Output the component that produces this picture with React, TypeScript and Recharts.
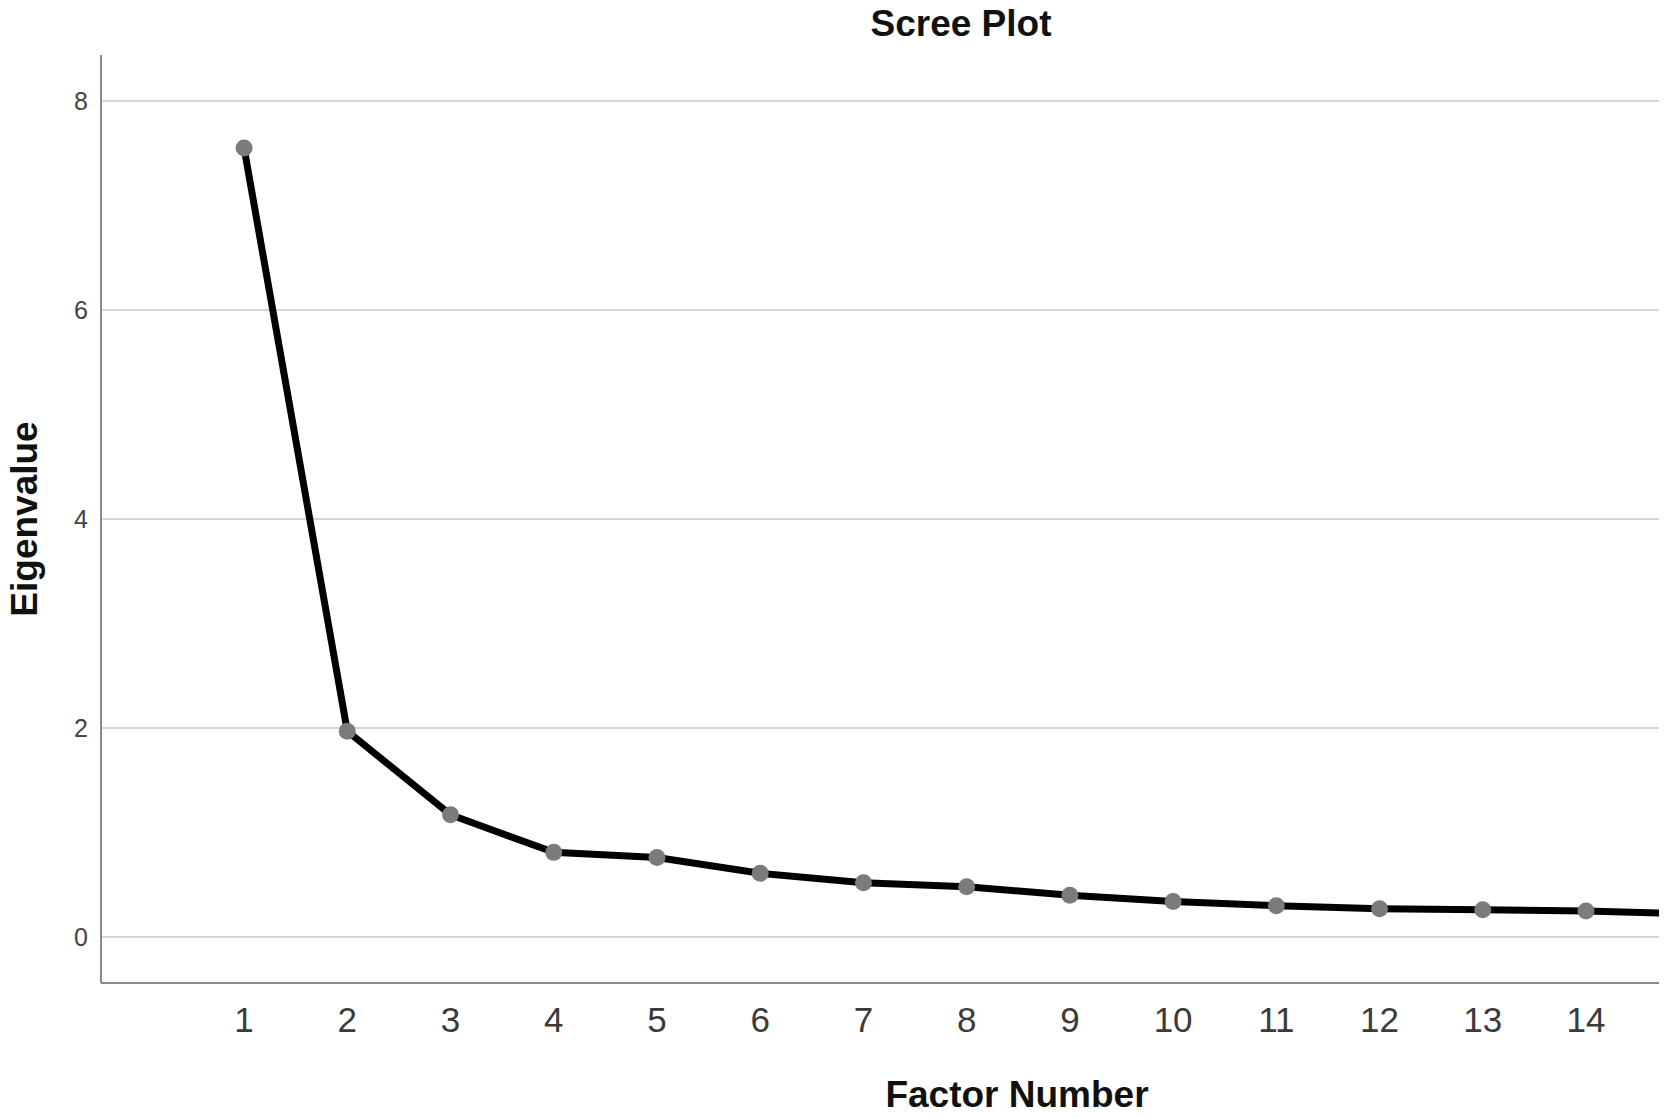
import React from 'react';
import { LineChart, Line, XAxis, YAxis, ReferenceLine, Label } from 'recharts';

const factorNumbers = [1, 2, 3, 4, 5, 6, 7, 8, 9, 10, 11, 12, 13, 14, 15];
const eigenvalues = [7.55, 1.97, 1.17, 0.81, 0.76, 0.61, 0.52, 0.48, 0.40, 0.34, 0.30, 0.27, 0.26, 0.25, 0.22];
const xTicks = [1, 2, 3, 4, 5, 6, 7, 8, 9, 10, 11, 12, 13, 14];
const yTicks = [0, 2, 4, 6, 8];

const data = factorNumbers.map((f, i) => ({ factor: f, eigen: eigenvalues[i] }));

const FONT = '"Liberation Sans", Arial, sans-serif';

export default function App() {
  return (
    <div style={{ position: 'absolute', left: 0, top: 0, width: 1665, height: 1117, background: '#fff', fontFamily: FONT }}>
      <div
        style={{
          position: 'absolute',
          left: 961,
          top: 5,
          transform: 'translateX(-50%)',
          fontSize: 37,
          lineHeight: '37px',
          fontWeight: 'bold',
          color: '#111',
          whiteSpace: 'nowrap',
        }}
      >
        Scree Plot
      </div>
      <LineChart width={1665} height={1117} data={data} margin={{ top: 55, right: 6, left: 0, bottom: 0 }}>
        {yTicks.map((t) => (
          <ReferenceLine key={t} y={t} stroke="#d6d6d6" strokeWidth={2} />
        ))}
        <XAxis
          dataKey="factor"
          type="number"
          domain={[-0.386, 14.707]}
          allowDataOverflow
          ticks={xTicks}
          interval={0}
          height={134}
          tickLine={false}
          tickSize={0}
          tickMargin={24}
          axisLine={{ stroke: '#8a8a8a', strokeWidth: 2 }}
          tick={{ fill: '#3a3a3a', fontSize: 35, fontFamily: FONT }}
        >
          <Label
            value="Factor Number"
            position="center"
            dx={137}
            dy={44}
            style={{ fontSize: 37, fontWeight: 'bold', fill: '#111', fontFamily: FONT }}
          />
        </XAxis>
        <YAxis
          type="number"
          domain={[-0.44, 8.44]}
          allowDataOverflow
          ticks={yTicks}
          width={101}
          tickLine={false}
          tickSize={0}
          tickMargin={13}
          axisLine={{ stroke: '#8a8a8a', strokeWidth: 2 }}
          tick={{ fill: '#444', fontSize: 25, fontFamily: FONT }}
        >
          <Label
            value="Eigenvalue"
            position="center"
            angle={-90}
            dx={-27}
            style={{ fontSize: 37, fontWeight: 'bold', fill: '#111', fontFamily: FONT }}
          />
        </YAxis>
        <Line
          type="linear"
          dataKey="eigen"
          stroke="#000"
          strokeWidth={7}
          dot={{ r: 8.5, fill: '#7b7b7b', stroke: 'none' }}
          activeDot={false}
          isAnimationActive={false}
        />
      </LineChart>
    </div>
  );
}
